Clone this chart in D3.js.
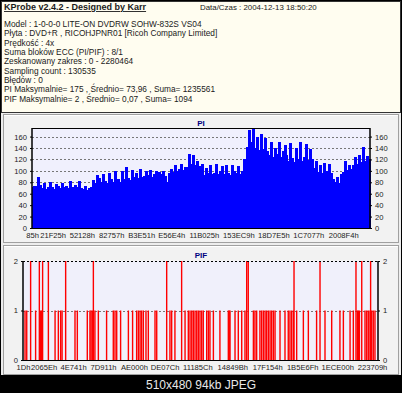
<!DOCTYPE html>
<html>
  <head>
    <meta charset="UTF-8" />
    <title>KProbe</title>
    <script src="https://d3js.org/d3.v7.min.js"></script>
    <style>
      * {
        margin: 0;
        padding: 0;
      }
      body {
        background-color: #000;
      }
      svg {
        display: block;
      }
      .info {
        font-family: "Liberation Sans", Arial, sans-serif;
        font-size: 8.3px;
        fill: #1a1a1a;
      }
      .axis text {
        font-family: "Liberation Sans", Arial, sans-serif;
        font-size: 7.6px;
        fill: #222;
      }
      .ctitle {
        font-family: "Liberation Sans", Arial, sans-serif;
        font-size: 8px;
        font-weight: bold;
        fill: #000080;
        text-anchor: middle;
      }
    </style>
  </head>
  <body>
    <svg id="chart" width="402" height="393"></svg>
  </body>
  <script>
    // header lines of the report
    const titleText = "KProbe v2.4.2 - Designed by Karr";
    const dateText = "Data/Czas : 2004-12-13 18:50:20";
    const infoLines = [
      "Model : 1-0-0-0 LITE-ON DVDRW SOHW-832S  VS04",
      "Płyta : DVD+R , RICOHJPNR01 [Ricoh Company Limited]",
      "Prędkość : 4x",
      "Suma bloków ECC (PI/PIF) : 8/1",
      "Zeskanowany zakres : 0 - 2280464",
      "Sampling count : 130535",
      "Błędów : 0",
      "PI Maksymalnie= 175 , Średnio= 73,96 , Suma= 1235561",
      "PIF Maksymalnie= 2 , Średnio= 0,07 , Suma= 1094"
    ];
    const caption = "510x480 94kb JPEG";

    const lbaMax = 2280464;

    // PI values, evenly spread over the scanned range
    const piValues = [
      72, 74, 73, 89, 76,
      70, 78, 68, 72, 80, 71, 69, 77, 73, 70, 79, 72, 74,
      70, 82, 71, 69, 76, 72, 83, 70, 68, 74,
      66, 70, 72, 84, 78, 92, 88,
      80, 94, 82, 79, 97, 85, 81, 99, 83, 86, 80, 100,
      86, 107, 88, 84, 102, 90, 97, 87, 104, 89, 91, 100,
      92, 101, 90, 95, 99, 93, 98, 94, 100, 91, 80, 96, 103,
      98, 110, 100, 104, 112, 101, 106,
      107, 130, 112, 127, 110, 118, 108,
      96, 112, 93, 105, 97, 110, 95,
      96, 112, 94, 100, 108, 95, 110, 97, 93, 111, 99, 96, 109, 94,
      100, 121, 105,
      141, 172, 150, 175, 140, 160, 136, 165, 138, 158, 134,
      128, 150, 125, 140, 130, 151, 124, 135, 146, 127,
      118, 148, 122, 116, 140, 120, 150, 117, 125, 147, 119, 139, 121,
      105, 118, 98, 110, 96, 114, 100, 95, 112, 97,
      86, 80, 90, 78, 95,
      98, 118, 101, 110, 104,
      110, 125, 112, 128, 115, 141, 118, 126, 120
    ];
    const piYTicks = [0, 20, 40, 60, 80, 100, 120, 140, 160];
    const piXLabels = ["85h", "21F25h", "52128h", "82757h", "B3E51h", "E56E4h",
      "11B025h", "153EC9h", "18D7E5h", "1C7077h", "2008F4h"];

    // PIF hits: position in thousands of sectors
    const pif2 = [49, 105, 126, 163, 274, 452, 923, 1019, 1437, 1447, 1741, 1908,
      2139, 2176, 2233];
    const pif1 = [13, 24, 81, 113, 120, 206, 227, 242, 251, 334, 349, 413, 430, 437,
      445, 462, 484, 537, 580, 591, 602, 627, 677, 704, 730, 741, 752, 762, 773,
      790, 805, 848, 859, 944, 955, 976, 1041, 1062, 1073, 1084, 1094, 1105, 1116,
      1126, 1137, 1148, 1158, 1180, 1191, 1201, 1223, 1265, 1319, 1325, 1330, 1362,
      1383, 1405, 1426, 1480, 1490, 1501, 1522, 1533, 1544, 1555, 1565, 1576, 1587,
      1597, 1608, 1619, 1651, 1683, 1704, 1715, 1726, 1737, 1758, 1801, 1833, 1886,
      1940, 1983, 2036, 2058, 2101, 2122, 2148, 2154, 2161, 2197, 2208, 2218, 2229,
      2240, 2250, 2261];
    const pifYTicks = [0, 1, 2];
    const pifXLabels = ["1Dh", "2065Eh", "4E741h", "7D911h", "AE000h", "DE07Ch",
      "11185Ch", "14849Bh", "17F154h", "1B5E6Fh", "1ECE00h", "223709h"];

    const svg = d3.select("#chart");

    // window background
    svg.append("rect").attr("x", 0).attr("y", 0).attr("width", 402).attr("height", 393).attr("fill", "#000");
    svg.append("rect").attr("x", 1).attr("y", 1).attr("width", 400).attr("height", 374).attr("fill", "#ededed");

    // info panel
    svg.append("rect")
      .attr("x", 1.5).attr("y", 1.5).attr("width", 399).attr("height", 111)
      .attr("fill", "#fffdf0").attr("stroke", "#333").attr("stroke-width", 1);

    svg.append("text").attr("class", "info")
      .attr("x", 4).attr("y", 10)
      .style("font-weight", "bold")
      .style("font-size", "9px")
      .style("text-decoration", "underline")
      .text(titleText);
    svg.append("text").attr("class", "info")
      .attr("x", 200).attr("y", 10)
      .style("font-size", "7.9px")
      .text(dateText);
    svg.selectAll(".line")
      .data(infoLines)
      .enter()
      .append("text")
      .attr("class", "info line")
      .attr("x", 4)
      .attr("y", (d, i) => 27 + i * 9.35)
      .text((d) => d);

    // panels behind the two charts
    [[114, 128], [245, 129]].forEach(([py, ph]) => {
      svg.append("rect")
        .attr("x", 3.5).attr("y", py + 0.5).attr("width", 395).attr("height", ph)
        .attr("fill", "#f2f2f2").attr("stroke", "#a0a0a0");
      svg.append("line")
        .attr("x1", 4).attr("x2", 398).attr("y1", py + 1.5).attr("y2", py + 1.5)
        .attr("stroke", "#fff");
    });

    function drawFrame(x, y, bg) {
      const [x0, x1] = x.range();
      const [y0, y1] = y.range();
      svg.append("rect")
        .attr("x", x0).attr("y", y1).attr("width", x1 - x0).attr("height", y0 - y1)
        .attr("fill", bg);
    }

    function drawGrid(x, y, ticks, gridFn) {
      const [x0, x1] = x.range();
      svg.append("g")
        .attr("class", "grid")
        .selectAll("line")
        .data(ticks.filter(gridFn))
        .enter()
        .append("line")
        .attr("x1", x0).attr("x2", x1)
        .attr("y1", (d) => Math.round(y(d)) + 0.5)
        .attr("y2", (d) => Math.round(y(d)) + 0.5)
        .attr("stroke", "#777")
        .attr("stroke-dasharray", "2,2");
    }

    function drawAxes(x, y, yTicks, xLabels, pad) {
      const [x0, x1] = x.range();
      const [y0, y1] = y.range();
      const left = svg.append("g").attr("class", "axis")
        .attr("transform", `translate(${x0},0)`)
        .call(d3.axisLeft(y).tickValues(yTicks).tickSize(2).tickPadding(pad).tickFormat(d3.format("d")));
      const right = svg.append("g").attr("class", "axis")
        .attr("transform", `translate(${x1},0)`)
        .call(d3.axisRight(y).tickValues(yTicks).tickSize(2).tickPadding(pad).tickFormat(d3.format("d")));
      const bottom = svg.append("g").attr("class", "axis")
        .attr("transform", `translate(0,${y0})`)
        .call(d3.axisBottom(x)
          .tickValues(xLabels.map((s) => parseInt(s.slice(0, -1), 16)))
          .tickSize(0).tickPadding(5)
          .tickFormat((d, i) => xLabels[i]));
      [left, right, bottom].forEach((g) => {
        g.select(".domain").remove();
        g.selectAll("line").attr("stroke", "#000");
      });
      // frame
      svg.append("line").attr("x1", x0).attr("x2", x0).attr("y1", y1).attr("y2", y0 + 1).attr("stroke", "#000").attr("stroke-width", 1.5);
      svg.append("line").attr("x1", x1).attr("x2", x1).attr("y1", y1).attr("y2", y0 + 1).attr("stroke", "#000").attr("stroke-width", 1.5);
      svg.append("line").attr("x1", x0).attr("x2", x1).attr("y1", y0 + 0.5).attr("y2", y0 + 0.5).attr("stroke", "#000");
    }

    // ---- PI chart ----
    const xPI = d3.scaleLinear().domain([0, lbaMax]).range([32, 370]);
    const yPI = d3.scaleLinear().domain([0, 175]).range([228, 128]);
    drawFrame(xPI, yPI, "#f0f0fd");
    drawGrid(xPI, yPI, piYTicks, (d) => d > 0);
    const step = lbaMax / piValues.length;
    svg.append("g")
      .attr("shape-rendering", "crispEdges")
      .selectAll("rect")
      .data(piValues)
      .enter()
      .append("rect")
      .attr("x", (d, i) => Math.floor(xPI(i * step)))
      .attr("width", Math.ceil(xPI(step) - xPI(0)) + 1)
      .attr("y", (d) => yPI(d))
      .attr("height", (d) => yPI(0) - yPI(d))
      .attr("fill", "#0000ff");
    svg.append("line").attr("x1", 32).attr("x2", 370).attr("y1", 128.5).attr("y2", 128.5).attr("stroke", "#000");
    drawAxes(xPI, yPI, piYTicks, piXLabels, 3);
    svg.append("text").attr("class", "ctitle").attr("x", 201).attr("y", 125.5).text("PI");

    // ---- PIF chart ----
    const xPIF = d3.scaleLinear().domain([0, lbaMax]).range([23, 378]);
    const yPIF = d3.scaleLinear().domain([0, 2]).range([360, 261]);
    drawFrame(xPIF, yPIF, "#f0f0fb");
    drawGrid(xPIF, yPIF, pifYTicks, (d) => d === 1);
    const pifData = pif1.map((p) => ({ p, v: 1 })).concat(pif2.map((p) => ({ p, v: 2 })));
    svg.append("g")
      .selectAll("rect")
      .data(pifData)
      .enter()
      .append("rect")
      .attr("x", (d) => xPIF(d.p * 1000) - 0.7)
      .attr("width", 1.4)
      .attr("y", (d) => yPIF(d.v))
      .attr("height", (d) => yPIF(0) - yPIF(d.v))
      .attr("fill", "#ff0000");
    svg.append("line").attr("x1", 23).attr("x2", 378).attr("y1", 261.5).attr("y2", 261.5)
      .attr("stroke", "#000").attr("stroke-dasharray", "2,2");
    drawAxes(xPIF, yPIF, pifYTicks, pifXLabels, 3);
    svg.append("text").attr("class", "ctitle").attr("x", 201).attr("y", 258).text("PIF");

    // caption strip
    svg.append("text")
      .attr("x", 201).attr("y", 388.5)
      .attr("text-anchor", "middle")
      .attr("fill", "#e8e8e8")
      .style("font-family", "'Liberation Sans', Arial, sans-serif")
      .style("font-size", "12px")
      .text(caption);
  </script>
</html>
